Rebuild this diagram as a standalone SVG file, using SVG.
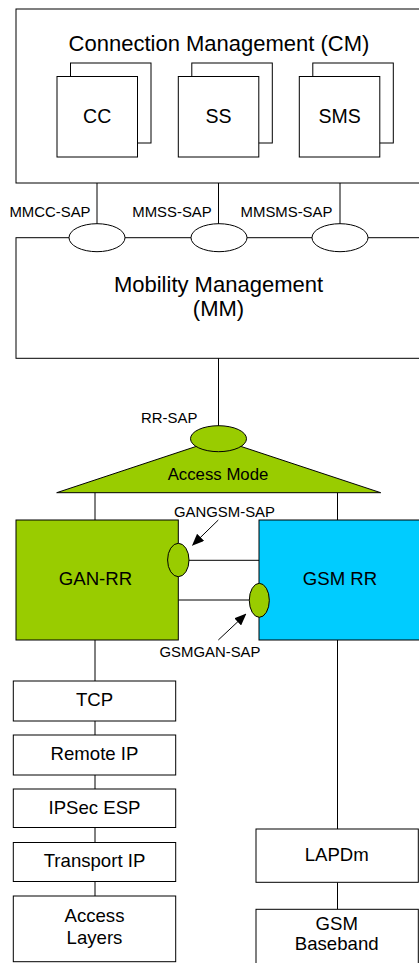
<svg xmlns="http://www.w3.org/2000/svg" width="419" height="963" viewBox="0 0 419 963">
<style>
text{font-family:"Liberation Sans",Arial,sans-serif;fill:#000;text-anchor:middle}
.box{fill:#fff;stroke:#000;stroke-width:1}
.ln{stroke:#000;stroke-width:1;fill:none}
.sap{fill:#fff;stroke:#000;stroke-width:1}
.gsap{fill:#99cc00;stroke:#000;stroke-width:1}
.t22{font-size:22px}
.t19{font-size:19.5px}
.t18{font-size:18.6px}
.t15{font-size:14.9px}
.t17{font-size:16.8px}
</style>
<defs>
<marker id="ah" markerWidth="12" markerHeight="10" refX="11" refY="5" orient="auto" markerUnits="userSpaceOnUse">
<path d="M0,0 L12,5 L0,10 z" fill="#000"/>
</marker>
</defs>
<rect width="419" height="963" fill="#fff"/>
<g id="connectors">
<line class="ln" x1="97" y1="157" x2="97" y2="224"/>
<line class="ln" x1="218.5" y1="157" x2="218.5" y2="224"/>
<line class="ln" x1="340" y1="157" x2="340" y2="224"/>
<line class="ln" x1="218.5" y1="358" x2="218.5" y2="426"/>
<line class="ln" x1="95" y1="492.5" x2="95" y2="520"/>
<line class="ln" x1="337.5" y1="492.5" x2="337.5" y2="520"/>
<line class="ln" x1="189" y1="560.3" x2="259" y2="560.3"/>
<line class="ln" x1="178.3" y1="600" x2="249.3" y2="600"/>
<line class="ln" x1="218.3" y1="520" x2="192.7" y2="545" marker-end="url(#ah)"/>
<line class="ln" x1="218.3" y1="640" x2="245.7" y2="614.3" marker-end="url(#ah)"/>
<line class="ln" x1="95" y1="640" x2="95" y2="681"/>
<line class="ln" x1="95" y1="721" x2="95" y2="735"/>
<line class="ln" x1="95" y1="775" x2="95" y2="789"/>
<line class="ln" x1="95" y1="827.5" x2="95" y2="842.5"/>
<line class="ln" x1="95" y1="881.5" x2="95" y2="896"/>
<line class="ln" x1="337.5" y1="640" x2="337.5" y2="829"/>
<line class="ln" x1="337.5" y1="882.3" x2="337.5" y2="909.3"/>
</g>
<g id="cm">
<rect class="box" x="16" y="9" width="420" height="174"/>
<text class="t22" x="219" y="51">Connection Management (CM)</text>
</g>
<g id="cc">
<rect class="box" x="70.5" y="63" width="80.5" height="80"/>
<rect class="box" x="57" y="76.5" width="80.5" height="80.5"/>
<text class="t19" x="97.2" y="123">CC</text>
</g>
<g id="ss">
<rect class="box" x="191.8" y="63" width="80.5" height="80"/>
<rect class="box" x="178.3" y="76.5" width="80.5" height="80.5"/>
<text class="t19" x="218.5" y="123">SS</text>
</g>
<g id="sms">
<rect class="box" x="312.8" y="63" width="80.5" height="80"/>
<rect class="box" x="299.3" y="76.5" width="80.5" height="80.5"/>
<text class="t19" x="339.6" y="123">SMS</text>
</g>
<g id="mm">
<rect class="box" x="16" y="237.7" width="420" height="120.6"/>
<text class="t22" x="218.5" y="292">Mobility Management</text>
<text class="t22" x="218.5" y="316">(MM)</text>
</g>
<g id="mmcc-sap">
<ellipse class="sap" cx="97" cy="237.7" rx="28" ry="14"/>
<text class="t15" x="50" y="216.7">MMCC-SAP</text>
</g>
<g id="mmss-sap">
<ellipse class="sap" cx="219" cy="237.7" rx="28" ry="14"/>
<text class="t15" x="172" y="216.7">MMSS-SAP</text>
</g>
<g id="mmsms-sap">
<ellipse class="sap" cx="340" cy="237.7" rx="28" ry="14"/>
<text class="t15" x="286.5" y="216.7">MMSMS-SAP</text>
</g>
<g id="access-mode">
<polygon class="gsap" points="56.7,492.7 218.5,439 380.7,492.7"/>
<text class="t17" x="218" y="480">Access Mode</text>
</g>
<g id="rr-sap">
<ellipse class="gsap" cx="218.5" cy="438.7" rx="28" ry="13"/>
<text class="t15" x="169.2" y="423.3">RR-SAP</text>
</g>
<g id="gan-rr">
<rect x="16" y="520" width="162.3" height="120" fill="#99cc00" stroke="#000"/>
<text class="t18" x="95.5" y="585">GAN-RR</text>
</g>
<g id="gsm-rr">
<rect x="259" y="520" width="180" height="120" fill="#00ccff" stroke="#000"/>
<text class="t18" x="340" y="585">GSM RR</text>
</g>
<g id="gangsm-sap">
<ellipse class="gsap" cx="178.3" cy="560" rx="10.7" ry="16.7"/>
<text class="t15" x="224.5" y="516.7">GANGSM-SAP</text>
</g>
<g id="gsmgan-sap">
<ellipse class="gsap" cx="259.3" cy="600.3" rx="10" ry="17"/>
<text class="t15" x="210" y="656.7">GSMGAN-SAP</text>
</g>
<g id="tcp">
<rect class="box" x="13.3" y="681" width="162.4" height="40"/>
<text class="t18" x="94.5" y="705.5">TCP</text>
</g>
<g id="remote-ip">
<rect class="box" x="13.3" y="735" width="162.4" height="40"/>
<text class="t18" x="94.5" y="760">Remote IP</text>
</g>
<g id="ipsec-esp">
<rect class="box" x="13.3" y="789" width="162.4" height="38.5"/>
<text class="t18" x="94.5" y="814">IPSec ESP</text>
</g>
<g id="transport-ip">
<rect class="box" x="13.3" y="842.5" width="162.4" height="39"/>
<text class="t18" x="94.5" y="867.3">Transport IP</text>
</g>
<g id="access-layers">
<rect class="box" x="13.3" y="896" width="162.4" height="65.7"/>
<text class="t18" x="94.5" y="921.7">Access</text>
<text class="t18" x="94.5" y="943.5">Layers</text>
</g>
<g id="lapdm">
<rect class="box" x="256" y="829" width="162.3" height="53.3"/>
<text class="t18" x="336.7" y="860.7">LAPDm</text>
</g>
<g id="gsm-baseband">
<rect class="box" x="256" y="909.3" width="162.3" height="70"/>
<text class="t18" x="336.7" y="930">GSM</text>
<text class="t18" x="336.7" y="950">Baseband</text>
</g>
</svg>
